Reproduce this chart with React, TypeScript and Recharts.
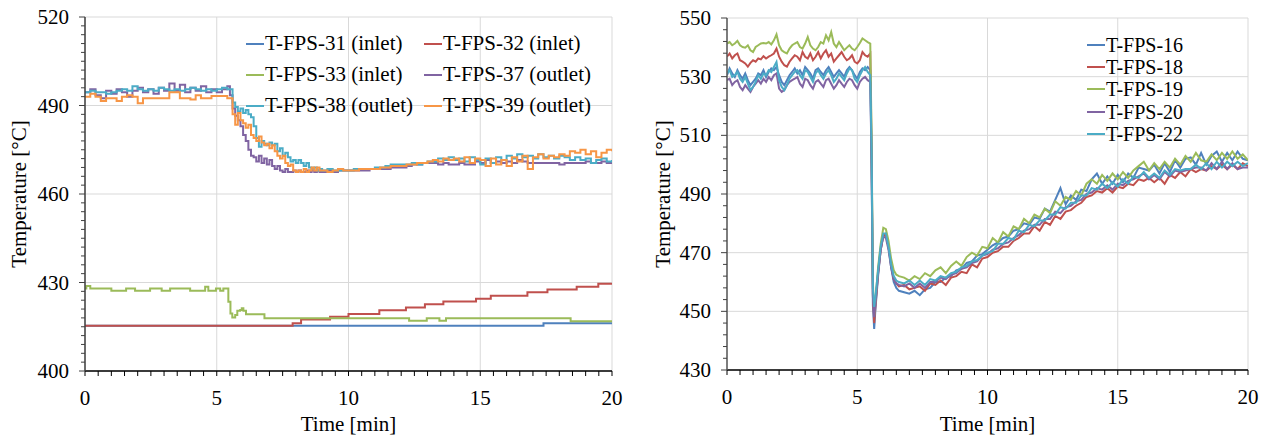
import { LineChart, Line, XAxis, YAxis, CartesianGrid, Legend, Label } from "recharts";

const FONT = "'Liberation Serif', 'Times New Roman', serif";
const FONT_SIZE = 21;

const BLUE = "#4F81BD";
const RED = "#C0504D";
const GREEN = "#9BBB59";
const PURPLE = "#8064A2";
const AQUA = "#4BACC6";
const ORANGE = "#F79646";

// axis ticks
const xMajor = [0, 5, 10, 15, 20];
const xMinor = Array.from({ length: 41 }, (_, i) => i * 0.5);
const yMajorL = [400, 430, 460, 490, 520];
const yMinorL = Array.from({ length: 41 }, (_, i) => 400 + i * 3);
const yMajorR = [430, 450, 470, 490, 510, 530, 550];
const yMinorR = Array.from({ length: 31 }, (_, i) => 430 + i * 4);

// ---- left chart: inlet sensors (step changes) ----
const fps31T = [0, 17.4, 20];
const fps31V = [415.3, 416.2, 416.2];

const fps32T = [0, 7.88, 8.2, 9.3, 10.0, 11.17, 12.18, 12.9, 13.6, 14.84, 15.4, 16.79, 17.55, 18.66, 19.48, 20];
const fps32V = [415.3, 416.2, 417.5, 418.4, 419.3, 420.6, 421.5, 422.6, 423.6, 424.5, 425.5, 426.7, 427.6, 428.6, 429.6, 429.6];

const fps33T = [0, 0.05, 0.2, 1.0, 1.56, 1.9, 2.47, 2.91, 3.23, 3.99, 4.56, 4.68, 4.97, 5.13, 5.25, 5.44, 5.52, 5.59, 5.7, 5.78, 5.89, 5.95, 6.01, 6.11, 6.81, 12.3, 12.97, 13.45, 13.7, 18.43, 20];
const fps33V = [428.0, 428.8, 428.0, 427.2, 428.0, 427.2, 428.0, 427.2, 428.0, 427.2, 428.6, 427.2, 428.0, 427.2, 428.0, 423.5, 419.5, 418.1, 419.0, 420.4, 420.7, 421.3, 420.4, 419.2, 417.9, 417.0, 417.9, 417.0, 417.9, 416.9, 416.9];

// ---- left chart: outlet sensors ----
const tL = [
  0, 0.2, 0.4, 0.6, 0.8, 1, 1.2, 1.4, 1.6, 1.8, 2, 2.2, 2.4, 2.6, 2.8, 3, 3.2, 3.4, 3.6, 3.8, 4, 4.2, 4.4, 4.6, 4.8, 5, 5.2, 5.4,
  5.5, 5.6, 5.7, 5.8, 5.9, 6, 6.1, 6.2, 6.3, 6.4, 6.5, 6.6, 6.7, 6.8, 6.9, 7, 7.1, 7.2, 7.3, 7.4, 7.5, 7.6, 7.7, 7.8, 7.9,
  8, 8.1, 8.2, 8.3, 8.4, 8.5, 8.6, 8.7, 8.8, 8.9,
  9, 9.2, 9.4, 9.6, 9.8, 10, 10.2, 10.4, 10.6, 10.8, 11, 11.2, 11.4, 11.6, 11.8, 12, 12.2, 12.4, 12.6, 12.8,
  13, 13.2, 13.4, 13.6, 13.8, 14, 14.2, 14.4, 14.6, 14.8, 15, 15.2, 15.4, 15.6, 15.8, 16, 16.2, 16.4, 16.6, 16.8,
  17, 17.2, 17.4, 17.6, 17.8, 18, 18.2, 18.4, 18.6, 18.8, 19, 19.2, 19.4, 19.6, 19.8, 20,
];

const fps37 = [
  494.5, 495.5, 493.5, 492.5, 495, 494, 495.5, 494.5, 493, 495, 496, 494.5, 495.5, 494, 496, 495, 497.5, 495, 497, 494.5, 496, 495, 496.5, 494.5, 495.5, 494.5, 495.5, 496.5,
  493.5, 489, 486.5, 485, 483, 480, 478, 475, 473, 472.5, 471, 473, 470.5, 472, 470, 471.5, 469.5, 468.5, 469.5, 468, 467.5, 468.5, 467.5, 467.5, 468,
  467.5, 468, 467.5, 467.5, 468, 467.5, 468, 467.5, 468, 467.5,
  467.5, 468, 467.5, 468, 468, 468, 468, 468, 468, 468.5, 468.5, 468.5, 468.5, 469, 469, 469, 469.5, 470, 470, 470.5,
  470.5, 470.5, 470, 470.5, 470, 470, 470.5, 470, 470, 471, 470.5, 471.5, 470.5, 471, 470.5, 471, 470.5, 471.5, 471, 470.5,
  470.5, 470.5, 470.5, 470.5, 470.5, 470, 470.5, 470.5, 470.5, 470.5, 471, 470.5, 470.5, 471, 470.5, 470.5,
];

const fps38 = [
  494.5, 495, 494.5, 494.5, 494, 494.5, 495, 495.5, 495, 496.5, 495.5, 495, 495.5, 495, 496, 495.5, 495, 495.5, 495, 495.5, 496, 495.5, 495, 495.5, 495, 495.5, 496, 495.5,
  495.5, 491, 489.5, 488, 489, 487.5, 488.5, 487, 486, 483, 479, 476, 478, 477, 476.5, 477.5, 476.5, 477, 474.5, 475.5, 473, 474, 472.5, 471, 471.5,
  470.5, 471.5, 470.5, 469.5, 470.5, 469, 468.5, 469, 468, 468.5,
  468, 468.5, 468, 468, 468, 468, 468.5, 468.5, 468.5, 468.5, 469, 469, 469.5, 470, 470, 470, 470, 470.5, 470, 470.5,
  471, 471, 472, 471.5, 472.5, 471.5, 472, 471, 472.5, 471.5, 470, 472, 470.5, 472.5, 471.5, 473, 472, 473.5, 472.5, 473,
  472, 473.5, 472.5, 473, 472, 473, 472.5, 471.5, 472.5, 471.5, 472, 470.5, 471.5, 472, 471, 471.5,
];

const fps39 = [
  493, 494, 493, 491.5, 492.5, 492.5, 491.5, 493, 493.5, 493, 490.8, 492.5, 492.5, 492.5, 492.5, 492.5, 494.5, 494.5, 492.5, 492.5, 492, 493.5, 492.5, 492.5, 493.2, 493.2, 493.2, 492.5,
  492.5, 487, 483.5, 487.5, 485, 484, 482.5, 483.5, 480, 479, 478, 479.5, 477.5, 476.5, 477, 475.5, 476.5, 474.5, 473, 472, 473, 470.5, 469.5, 470, 468,
  467.5, 468, 467.5, 468.5, 467.5, 468, 469, 468, 469, 468,
  468, 467.5, 468, 468.5, 468, 468, 468, 468.5, 468.5, 468.5, 468.5, 469, 469, 469.5, 469.5, 469.5, 470, 470, 470.5, 470.5,
  471, 471.5, 471, 472, 471.5, 472, 471, 472.5, 470.5, 472, 471.5, 469.5, 472, 470, 471.5, 469.5, 472.5, 471, 473, 468.5,
  472.5, 473.5, 472, 473, 472.5, 473.5, 473, 474.5, 474, 475, 473.5, 474.5, 472.5, 474, 475, 474.5,
];

// ---- right chart ----
const tR = [
  0, 0.1, 0.2, 0.3, 0.4, 0.5, 0.6, 0.7, 0.8, 0.9,
  1, 1.1, 1.2, 1.3, 1.4, 1.5, 1.6, 1.7, 1.8, 1.9,
  2, 2.1, 2.2, 2.3, 2.4, 2.5, 2.6, 2.7, 2.8, 2.9,
  3, 3.1, 3.2, 3.3, 3.4, 3.5, 3.6, 3.7, 3.8, 3.9,
  4, 4.1, 4.2, 4.3, 4.4, 4.5, 4.6, 4.7, 4.8, 4.9,
  5, 5.1, 5.2, 5.3, 5.4, 5.5,
  5.55, 5.6, 5.65, 5.7, 5.8, 5.9, 6, 6.1, 6.2, 6.3, 6.4, 6.5, 6.6,
  6.8, 7, 7.2, 7.4, 7.6, 7.8, 8, 8.2, 8.4, 8.6, 8.8,
  9, 9.2, 9.4, 9.6, 9.8, 10, 10.2, 10.4, 10.6, 10.8,
  11, 11.2, 11.4, 11.6, 11.8, 12, 12.2, 12.4, 12.6, 12.8,
  13, 13.2, 13.4, 13.6, 13.8, 14, 14.2, 14.4, 14.6, 14.8,
  15, 15.2, 15.4, 15.6, 15.8, 16, 16.2, 16.4, 16.6, 16.8,
  17, 17.2, 17.4, 17.6, 17.8, 18, 18.2, 18.4, 18.6, 18.8,
  19, 19.2, 19.4, 19.6, 19.8, 20,
];

const fps16 = [
  530.5, 532.8, 531.1, 529.9, 532.2, 530.5, 529.3, 531.1, 528.8, 527.1,
  528.2, 529.3, 531.1, 530.5, 532.2, 529.9, 531.6, 532.8, 532.2, 533.3,
  530.5, 528.2, 527.1, 528.8, 530.5, 531.6, 532.8, 531.1, 532.2, 530.5,
  533.3, 532.2, 531.1, 529.3, 532.2, 532.8, 531.6, 530.5, 532.2, 533.3,
  531.6, 529.9, 531.1, 532.2, 531.1, 529.9, 532.2, 533.3, 532.2, 530.5,
  529.3, 531.6, 532.8, 532.2, 533.3, 532.2,
  500, 452, 444, 451, 462, 471, 476, 476.5, 472, 465, 460, 458, 457,
  456.5, 456, 457, 455.5, 457.5, 458, 460, 460, 461.5, 462, 464,
  464.5, 466.5, 467, 469, 469.5, 471, 472.5, 473.5, 475, 475.5,
  477.5, 478, 480, 479.5, 482, 481.5, 485, 484, 488, 492,
  486.5, 489.5, 488, 491.5, 491, 495, 497, 493.5, 496, 493.5,
  496.5, 494, 497, 495.5, 499, 498.5, 498, 500, 497, 500.5,
  497.5, 501.5, 499, 502, 502.5, 500, 504, 500, 503, 504.5,
  501, 504, 501.5, 504.5, 502, 501.5,
];

const fps18 = [
  536.8, 537.9, 536.2, 537.3, 537.9, 535.6, 535.1, 534.5, 533.4, 534.7,
  535.6, 535.1, 536.2, 535.9, 537.0, 536.2, 536.8, 537.3, 537.9, 539.6,
  536.8, 535.1, 533.9, 533.4, 535.1, 536.2, 537.3, 536.8, 535.6, 538.4,
  536.8, 536.2, 537.9, 535.6, 536.8, 538.4, 536.2, 537.9, 539.0, 536.8,
  537.9, 535.1, 536.2, 537.3, 538.4, 536.8, 535.6, 536.2, 537.3, 535.1,
  534.5, 535.6, 538.4, 537.3, 536.8, 537.9,
  505, 456, 446, 452, 463, 471, 476, 476, 472, 466, 461, 459.5, 458.5,
  459, 457.5, 458, 458.5, 457, 459.5, 459, 460.5, 459, 461.5, 462,
  463.5, 463, 466, 465, 468, 468.5, 470, 470.5, 472, 472,
  474, 475, 476.5, 476.5, 479, 477.5, 480.5, 479.5, 482.5, 481.5,
  484, 484.5, 486, 487, 489, 489.5, 491, 490.5, 492, 490.5,
  492.5, 492, 493.5, 493, 495, 494.5, 495.5, 494, 495.5, 493.5,
  496.5, 495.5, 497.5, 496, 498.5, 497.5, 498.5, 498, 499.5, 498.5,
  500, 498.5, 500, 498.5, 500.5, 499.5,
];

const fps19 = [
  541.3, 541.8, 540.7, 541.3, 542.2, 540.7, 540.1, 539.9, 540.7, 539.0,
  538.4, 540.1, 540.7, 541.3, 541.5, 541.3, 541.8, 541.0, 542.4, 544.4,
  540.7, 539.0, 538.4, 537.9, 539.6, 540.7, 541.3, 541.8, 540.1, 539.6,
  541.3, 543.5, 540.7, 539.6, 539.0, 540.1, 541.8, 541.3, 544.1, 542.4,
  545.2, 541.3, 540.1, 541.8, 540.4, 539.0, 539.9, 540.7, 539.6, 539.0,
  540.1, 541.5, 543.0, 542.4, 541.8, 541.3,
  510, 460, 448.5, 454, 465, 473, 478.5, 478, 474, 468, 464, 462.5, 462,
  461.5, 460.5, 462, 461, 463, 462, 464, 465, 463, 465.5, 467,
  465.5, 468.5, 470, 469, 472, 471.5, 475, 473.5, 477, 475.5,
  479, 478, 481.5, 480, 483, 482, 485, 483.5, 487.5, 486,
  489, 488, 491, 489.5, 493.5, 495, 493.5, 496.5, 494.5, 497,
  495, 497.5, 495.5, 498, 499.5, 501, 498, 500.5, 498.5, 501,
  499, 502, 500, 503, 501, 504, 501.5, 501, 503.5, 501.5,
  504, 502, 504.5, 502, 503.5, 501.5,
];

const fps20 = [
  528.8, 529.3, 527.1, 528.2, 528.8, 526.5, 525.4, 527.1, 525.9, 524.8,
  526.5, 527.6, 528.8, 527.6, 529.3, 528.2, 529.9, 528.8, 530.5, 531.1,
  525.9, 524.8, 525.4, 527.1, 528.2, 528.8, 529.3, 529.9, 527.6, 526.5,
  529.3, 528.8, 527.1, 525.9, 528.2, 528.8, 527.6, 526.5, 528.8, 529.3,
  527.6, 525.9, 527.1, 528.8, 527.6, 526.5, 528.2, 529.3, 528.8, 527.1,
  525.9, 528.2, 529.3, 529.9, 528.8, 528.2,
  500, 455, 448, 453, 463, 471, 475.5, 475, 471, 465, 461, 459.5, 459,
  458.5, 459.5, 458, 459.5, 458, 460, 460, 461.5, 461, 462.5, 463,
  464.5, 465, 466.5, 467, 469, 469.5, 471, 471.5, 473, 473.5,
  475, 476, 477.5, 478, 479.5, 479.5, 481.5, 481.5, 484, 483.5,
  485.5, 486, 487.5, 488, 490, 490.5, 492, 491.5, 493, 491.5,
  493.5, 493, 494.5, 495, 496, 497, 495, 496.5, 495, 497.5,
  496, 498, 497.5, 498, 498.5, 499, 499, 498, 500.5, 498.5,
  501, 498.5, 500.5, 498.5, 499, 499,
];

const fps22 = [
  531.1, 532.2, 529.9, 530.5, 531.6, 529.3, 528.2, 529.9, 527.6, 525.4,
  526.5, 528.2, 530.5, 529.3, 531.1, 530.5, 532.2, 531.6, 533.3, 535.0,
  528.8, 526.5, 525.4, 527.1, 529.3, 530.5, 531.6, 532.2, 530.5, 529.3,
  532.2, 531.6, 529.9, 528.2, 531.1, 532.2, 530.5, 529.3, 531.1, 532.2,
  530.5, 528.2, 529.3, 531.1, 529.9, 528.8, 531.1, 532.8, 532.2, 529.3,
  528.2, 530.5, 532.2, 533.3, 531.6, 530.5,
  505, 458, 451.5, 455, 464, 472, 476.5, 476.5, 472, 466, 462, 460.5, 460,
  459.5, 460.5, 459, 460.5, 459, 461, 460.5, 462, 461.5, 463, 463.5,
  465, 465.5, 467, 467.5, 469, 470, 470.5, 473, 473, 475,
  474.5, 477.5, 477, 479.5, 479, 481, 481, 483, 483, 485.5,
  485, 487, 487, 489.5, 489.5, 492, 491.5, 493.5, 492, 494,
  492.5, 495, 493.5, 496, 495.5, 497.5, 495.5, 497, 495.5, 498,
  496.5, 498.5, 498, 498.5, 498.5, 500, 498.5, 500.5, 498.5, 501,
  499, 501, 499.5, 501, 499.5, 500.5,
];

const toPoints = (ts: number[], vs: number[]) => ts.map((t, i) => ({ t, v: vs[i] }));

function XTick(props: any) {
  const { x, y, payload, majors } = props;
  const major = majors.includes(payload.value);
  return (
    <g>
      <line x1={x} x2={x} y1={y} y2={y + 5} stroke="#000" strokeWidth={1} />
      {major && (
        <text x={x} y={y + 34} textAnchor="middle" fontFamily={FONT} fontSize={FONT_SIZE} fill="#000">
          {payload.value}
        </text>
      )}
    </g>
  );
}

function YTick(props: any) {
  const { x, y, payload, majors } = props;
  const major = majors.includes(payload.value);
  return (
    <g>
      <line x1={x - (major ? 6 : 4)} x2={x} y1={y} y2={y} stroke="#404040" strokeWidth={1} />
      {major && (
        <text x={x - 16} y={y} dy="0.34em" textAnchor="end" fontFamily={FONT} fontSize={FONT_SIZE} fill="#000">
          {payload.value}
        </text>
      )}
    </g>
  );
}

function SeriesLegend({ payload, columns, colWidth, rowHeight, fontSize }: any) {
  return (
    <div
      style={{
        display: "grid",
        gridTemplateColumns: `repeat(${columns}, ${colWidth}px)`,
        fontFamily: FONT,
        fontSize,
        color: "#000",
      }}
    >
      {(payload || []).map((item: any) => (
        <div key={item.value} style={{ display: "flex", alignItems: "center", height: rowHeight, whiteSpace: "nowrap" }}>
          <span style={{ display: "inline-block", width: 18, height: 2, background: item.color, marginRight: 1 }} />
          <span style={{ lineHeight: 1 }}>{item.value}</span>
        </div>
      ))}
    </div>
  );
}

const labelStyle = { fontFamily: FONT, fontSize: FONT_SIZE };

function OutletChart() {
  return (
    <LineChart width={640} height={439} margin={{ top: 17, right: 28, bottom: 0, left: 0 }}>
      <CartesianGrid stroke="#d9d9d9" horizontalValues={yMajorL} verticalValues={xMajor} />
      <XAxis
        type="number"
        dataKey="t"
        domain={[0, 20]}
        ticks={xMinor}
        interval={0}
        allowDataOverflow
        height={68}
        tickSize={0}
        tickMargin={0}
        tickLine={false}
        axisLine={{ stroke: "#000", strokeWidth: 1.5 }}
        tick={(p: any) => <XTick {...p} majors={xMajor} />}
      >
        <Label value="Time [min]" position="insideBottom" offset={8} fill="#000" style={labelStyle} />
      </XAxis>
      <YAxis
        type="number"
        domain={[400, 520]}
        ticks={yMinorL}
        interval={0}
        allowDataOverflow
        width={85}
        tickSize={0}
        tickMargin={0}
        tickLine={false}
        axisLine={{ stroke: "#404040", strokeWidth: 1.5 }}
        tick={(p: any) => <YTick {...p} majors={yMajorL} />}
      >
        <Label
          value="Temperature [°C]"
          angle={-90}
          position="insideLeft"
          offset={19}
          fill="#000"
          style={{ ...labelStyle, textAnchor: "middle" }}
        />
      </YAxis>
      <Legend
        layout="vertical"
        align="center"
        verticalAlign="middle"
        wrapperStyle={{ left: 246, top: 28, width: 380 }}
        content={(p: any) => (
          <SeriesLegend payload={p.payload} columns={2} colWidth={178} rowHeight={31} fontSize={FONT_SIZE} />
        )}
      />
      <Line name="T-FPS-31 (inlet)" data={toPoints(fps31T, fps31V)} dataKey="v" type="stepAfter" stroke={BLUE} strokeWidth={2} dot={false} isAnimationActive={false} />
      <Line name="T-FPS-32 (inlet)" data={toPoints(fps32T, fps32V)} dataKey="v" type="stepAfter" stroke={RED} strokeWidth={2} dot={false} isAnimationActive={false} />
      <Line name="T-FPS-33 (inlet)" data={toPoints(fps33T, fps33V)} dataKey="v" type="stepAfter" stroke={GREEN} strokeWidth={2} dot={false} isAnimationActive={false} />
      <Line name="T-FPS-37 (outlet)" data={toPoints(tL, fps37)} dataKey="v" type="stepAfter" stroke={PURPLE} strokeWidth={2} dot={false} isAnimationActive={false} />
      <Line name="T-FPS-38 (outlet)" data={toPoints(tL, fps38)} dataKey="v" type="stepAfter" stroke={AQUA} strokeWidth={2} dot={false} isAnimationActive={false} />
      <Line name="T-FPS-39 (outlet)" data={toPoints(tL, fps39)} dataKey="v" type="stepAfter" stroke={ORANGE} strokeWidth={2} dot={false} isAnimationActive={false} />
    </LineChart>
  );
}

function FuelChart() {
  return (
    <LineChart width={626} height={439} margin={{ top: 18, right: 18, bottom: 0, left: 0 }}>
      <CartesianGrid stroke="#d9d9d9" horizontalValues={yMajorR} verticalValues={xMajor} />
      <XAxis
        type="number"
        dataKey="t"
        domain={[0, 20]}
        ticks={xMinor}
        interval={0}
        allowDataOverflow
        height={69}
        tickSize={0}
        tickMargin={0}
        tickLine={false}
        axisLine={{ stroke: "#000", strokeWidth: 1.5 }}
        tick={(p: any) => <XTick {...p} majors={xMajor} />}
      >
        <Label value="Time [min]" position="insideBottom" offset={8} fill="#000" style={labelStyle} />
      </XAxis>
      <YAxis
        type="number"
        domain={[430, 550]}
        ticks={yMinorR}
        interval={0}
        allowDataOverflow
        width={87}
        tickSize={0}
        tickMargin={0}
        tickLine={false}
        axisLine={{ stroke: "#595959", strokeWidth: 1.5 }}
        tick={(p: any) => <YTick {...p} majors={yMajorR} />}
      >
        <Label
          value="Temperature [°C]"
          angle={-90}
          position="insideLeft"
          offset={23}
          fill="#000"
          style={{ ...labelStyle, textAnchor: "middle" }}
        />
      </YAxis>
      <Legend
        layout="vertical"
        align="center"
        verticalAlign="middle"
        wrapperStyle={{ left: 447, top: 34, width: 150 }}
        content={(p: any) => (
          <SeriesLegend payload={p.payload} columns={1} colWidth={150} rowHeight={22.2} fontSize={20} />
        )}
      />
      <Line name="T-FPS-16" data={toPoints(tR, fps16)} dataKey="v" stroke={BLUE} strokeWidth={2} dot={false} isAnimationActive={false} />
      <Line name="T-FPS-18" data={toPoints(tR, fps18)} dataKey="v" stroke={RED} strokeWidth={2} dot={false} isAnimationActive={false} />
      <Line name="T-FPS-19" data={toPoints(tR, fps19)} dataKey="v" stroke={GREEN} strokeWidth={2} dot={false} isAnimationActive={false} />
      <Line name="T-FPS-20" data={toPoints(tR, fps20)} dataKey="v" stroke={PURPLE} strokeWidth={2} dot={false} isAnimationActive={false} />
      <Line name="T-FPS-22" data={toPoints(tR, fps22)} dataKey="v" stroke={AQUA} strokeWidth={2} dot={false} isAnimationActive={false} />
    </LineChart>
  );
}

export default function App() {
  return (
    <div style={{ position: "absolute", left: 0, top: 0, width: 1266, height: 439, background: "#fff" }}>
      <div style={{ position: "absolute", left: 0, top: 0 }}>
        <OutletChart />
      </div>
      <div style={{ position: "absolute", left: 640, top: 0 }}>
        <FuelChart />
      </div>
    </div>
  );
}
